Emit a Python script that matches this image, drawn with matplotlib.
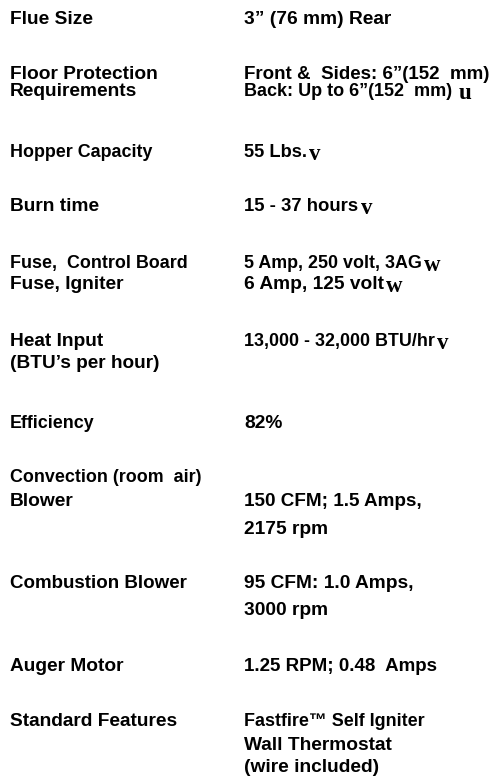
import matplotlib
matplotlib.use("Agg")
import matplotlib.pyplot as plt

# spec rows: label lines (left column), value lines (right column), trailing note marks
labels = ["Flue Size", "Floor Protection", "Requirements", "Hopper Capacity", "Burn time",
          "Fuse,  Control Board", "Fuse, Igniter", "Heat Input", "(BTU\u2019s per hour)",
          "Efficiency", "Convection (room  air)", "Blower", "Combustion Blower",
          "Auger Motor", "Standard Features"]
values = ["3\u201d (76 mm) Rear", "Front &  Sides: 6\u201d(152  mm)", "Back: Up to 6\u201d(152  mm)",
          "55 Lbs.", "15 - 37 hours", "5 Amp, 250 volt, 3AG", "6 Amp, 125 volt",
          "13,000 - 32,000 BTU/hr", "82%", "150 CFM; 1.5 Amps,", "2175 rpm",
          "95 CFM: 1.0 Amps,", "3000 rpm", "1.25 RPM; 0.48  Amps",
          "Fastfire\u2122 Self Igniter", "Wall Thermostat", "(wire included)"]
marks = ["", "", "u", "v", "v", "w", "w", "v", "", "", "", "", "", "", "", "", ""]

# layout (pixels from top-left): baselines and right edges
label_y = [23.5, 79, 96, 157, 211, 268, 289, 346, 368, 428, 482, 506, 588, 671, 726]
label_r = [94, 164, 144, 152, 99, 182, 127, 107, 159, 91, 200, 81, 187, 124, 181]
value_y = [23.5, 79, 96, 157, 211, 268, 289, 346, 428, 506, 534, 588, 615, 671, 726, 750, 772]
value_r = [393, 489, 452, 307, 358, 395, 383, 433, 286, 421, 331, 418, 331, 437, 423, 405, 388]
mark_x = [0, 0, 459, 308, 361, 396, 385, 435, 0, 0, 0, 0, 0, 0, 0, 0, 0]

W, H = 492, 783
fig = plt.figure(figsize=(W / 100, H / 100), dpi=100)
ax = fig.add_axes([0, 0, 1, 1])
ax.set_xlim(0, W)
ax.set_ylim(H, 0)
ax.axis("off")

base = 13.4
font = dict(family="Liberation Sans", weight="bold", size=base, color="black", va="baseline")

items = []
for txt, y, xr in zip(labels, label_y, label_r):
    items.append((ax.text(10, y, txt, **font), 10, xr))
vals = []
for txt, y, xr in zip(values, value_y, value_r):
    t = ax.text(244, y, txt, **font)
    items.append((t, 244, xr))
    vals.append(t)

# nudge each line toward its width on the page, but keep sizes close
fig.canvas.draw()
r = fig.canvas.get_renderer()
for t, x0, xr in items:
    w = t.get_window_extent(renderer=r).width
    k = min(max((xr - x0) / w, 0.96), 1.03)
    t.set_fontsize(base * k)

fig.canvas.draw()
inv = ax.transData.inverted()
for t, m, x, y in zip(vals, marks, mark_x, value_y):
    if m:
        x_end = inv.transform(t.get_window_extent(renderer=r).get_points())[1][0]
        ax.text(max(x, x_end + 2), y + 3, m, family="Liberation Serif", weight="bold",
                size=16.5, color="black", va="baseline")

fig.savefig("out.png", dpi=100, facecolor="white")
